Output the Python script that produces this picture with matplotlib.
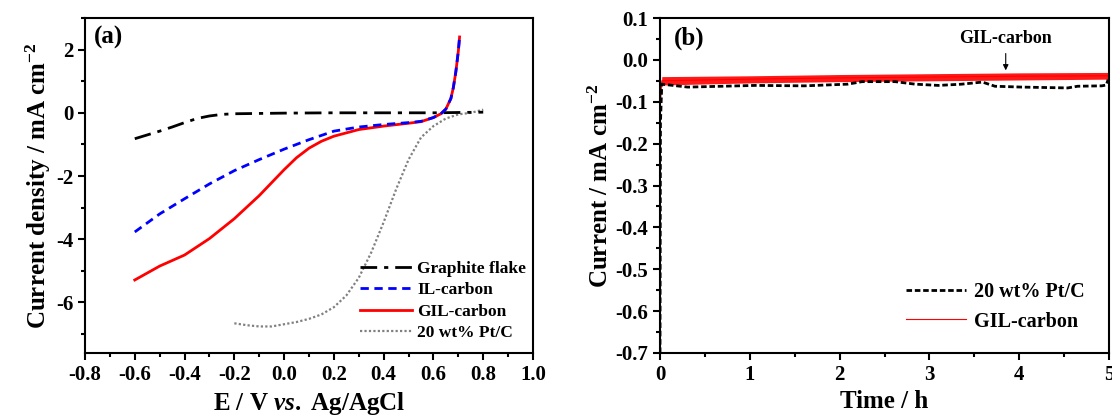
import matplotlib
matplotlib.use("Agg")
import matplotlib.pyplot as plt
from matplotlib.ticker import MultipleLocator, FormatStrFormatter
from matplotlib.lines import Line2D

plt.rcParams['font.family'] = ['Liberation Serif', 'DejaVu Serif']
plt.rcParams['font.weight'] = 'bold'
plt.rcParams['axes.unicode_minus'] = False
plt.rcParams['mathtext.fontset'] = 'custom'
plt.rcParams['mathtext.rm'] = 'Liberation Serif:bold'
plt.rcParams['mathtext.bf'] = 'Liberation Serif:bold'
plt.rcParams['mathtext.it'] = 'Liberation Serif:bold:italic'

# ---------------- Panel (a) data: LSV curves ----------------
graphite_E = [-0.6, -0.55, -0.5, -0.45, -0.4, -0.35, -0.3, -0.25, -0.2, -0.1, 0.0, 0.2, 0.4, 0.6, 0.8]
graphite_j = [-0.82, -0.70, -0.58, -0.45, -0.31, -0.18, -0.10, -0.05, -0.03, -0.02, -0.01, 0.0, 0.0, 0.0, 0.02]

il_E = [-0.6, -0.5, -0.4, -0.3, -0.2, -0.1, 0.0, 0.1, 0.2, 0.3, 0.4, 0.5, 0.55, 0.6, 0.63, 0.65, 0.67, 0.68, 0.69, 0.70, 0.705]
il_j = [-3.77, -3.2, -2.72, -2.25, -1.83, -1.48, -1.15, -0.85, -0.58, -0.45, -0.37, -0.31, -0.27, -0.15, -0.03, 0.12, 0.45, 0.8, 1.3, 1.95, 2.4]

gil_E = [-0.6, -0.5, -0.4, -0.3, -0.2, -0.1, 0.0, 0.05, 0.1, 0.15, 0.2, 0.3, 0.4, 0.5, 0.55, 0.6, 0.63, 0.65, 0.67, 0.68, 0.69, 0.70, 0.705]
gil_j = [-5.29, -4.85, -4.5, -3.98, -3.35, -2.62, -1.8, -1.42, -1.12, -0.9, -0.74, -0.53, -0.42, -0.33, -0.28, -0.15, -0.03, 0.12, 0.45, 0.8, 1.3, 1.95, 2.4]

ptc_E = [-0.2, -0.15, -0.1, -0.05, 0.0, 0.05, 0.1, 0.15, 0.2, 0.25, 0.3, 0.35, 0.4, 0.45, 0.5, 0.55, 0.6, 0.65, 0.7, 0.75, 0.8]
ptc_j = [-6.66, -6.72, -6.76, -6.76, -6.69, -6.62, -6.52, -6.38, -6.15, -5.78, -5.22, -4.42, -3.46, -2.42, -1.48, -0.78, -0.42, -0.18, -0.05, 0.0, 0.1]

# ---------------- Panel (b) data: chronoamperometry ----------------
ptc_t = [0.0, 0.005, 0.02, 0.31, 1.06, 1.61, 2.09, 2.25, 2.62, 2.84, 3.10, 3.36, 3.59, 3.73, 4.03, 4.54, 4.65, 4.92, 4.97, 4.99]
ptc_i = [-0.7, -0.15, -0.058, -0.065, -0.061, -0.062, -0.058, -0.052, -0.052, -0.058, -0.061, -0.058, -0.053, -0.063, -0.065, -0.067, -0.063, -0.062, -0.060, -0.047]

gil_t = [0.0, 0.004, 0.02, 1.0, 2.0, 3.0, 4.0, 5.0]
gil_i = [-0.7, -0.1, -0.05, -0.046, -0.043, -0.041, -0.039, -0.038]
gil_low = [-0.7, -0.1, -0.060, -0.055, -0.052, -0.050, -0.048, -0.046]
gil_high = [-0.7, -0.1, -0.040, -0.038, -0.035, -0.033, -0.031, -0.030]

fig = plt.figure(figsize=(11.12, 4.16), dpi=100)
axa = fig.add_axes([85/1112, 63/416, 448/1112, 335/416])
axb = fig.add_axes([660/1112, 63/416, 449/1112, 335/416])

for ax in (axa, axb):
    for s in ax.spines.values():
        s.set_linewidth(1.5)
    ax.tick_params(which='both', direction='out', width=1.5, labelsize=15)
    ax.tick_params(which='major', length=5)
    ax.tick_params(which='minor', length=3)

# Panel (a)
axa.plot(graphite_E, graphite_j, color='black', lw=2, ls=(0, (6, 2.5, 1.5, 2.5)), label='Graphite flake', zorder=3)
axa.plot(il_E, il_j, color='blue', lw=2, ls=(0, (3, 2)), label='IL-carbon', zorder=4)
axa.plot(gil_E, gil_j, color='red', lw=2, ls='-', label='GIL-carbon', zorder=2)
axa.plot(ptc_E, ptc_j, color='gray', lw=1.6, ls=(0, (1, 1)), label='20 wt% Pt/C', zorder=1)
axa.set_xlim(-0.8, 1.0)
axa.set_ylim(-7.6, 3.0)
axa.xaxis.set_major_locator(MultipleLocator(0.2))
axa.xaxis.set_minor_locator(MultipleLocator(0.1))
axa.yaxis.set_major_locator(MultipleLocator(2))
axa.yaxis.set_minor_locator(MultipleLocator(1))
axa.xaxis.set_major_formatter(FormatStrFormatter('%.1f'))
axa.set_xlabel(r'E / V $\mathit{vs.}$ Ag/AgCl', fontsize=18, fontweight='bold', labelpad=4)
axa.set_ylabel(r'Current density / mA cm$^{-2}$', fontsize=18, fontweight='bold', labelpad=2)
axa.text(0.02, 0.975, '(a)', transform=axa.transAxes, fontsize=18, fontweight='bold', va='top', ha='left')
axa.legend(loc='lower right', frameon=False, handlelength=3.0, handletextpad=0.3,
           labelspacing=0.3, borderaxespad=0.0, bbox_to_anchor=(1.0, 0.015),
           prop={'weight': 'bold', 'size': 12.5})

# Panel (b)
axb.fill_between(gil_t, gil_low, gil_high, color='red', lw=0, alpha=0.9)
axb.plot(gil_t, gil_i, color='red', lw=0.8)
axb.plot(ptc_t, ptc_i, color='black', lw=2, ls=(0, (2, 1)))
axb.set_xlim(0, 5)
axb.set_ylim(-0.7, 0.1)
axb.xaxis.set_major_locator(MultipleLocator(1))
axb.xaxis.set_minor_locator(MultipleLocator(0.5))
axb.yaxis.set_major_locator(MultipleLocator(0.1))
axb.yaxis.set_minor_locator(MultipleLocator(0.05))
axb.yaxis.set_major_formatter(FormatStrFormatter('%.1f'))
axb.set_xlabel('Time / h', fontsize=18, fontweight='bold', labelpad=4)
axb.set_ylabel(r'Current / mA cm$^{-2}$', fontsize=18, fontweight='bold', labelpad=2)
axb.text(0.03, 0.975, '(b)', transform=axb.transAxes, fontsize=18, fontweight='bold', va='top', ha='left')
axb.annotate('GIL-carbon', xy=(3.85, -0.025), xytext=(3.85, 0.052), ha='center', va='center',
             fontsize=13, fontweight='bold',
             arrowprops=dict(arrowstyle='-|>', color='black', lw=0.8, mutation_scale=8, shrinkA=3, shrinkB=0))
handles = [Line2D([], [], color='black', lw=2, ls=(0, (2, 1))),
           Line2D([], [], color='red', lw=0.8)]
axb.legend(handles, ['20 wt% Pt/C', 'GIL-carbon'], loc='lower right', frameon=False,
           handlelength=3.0, handletextpad=0.4, labelspacing=0.45, borderaxespad=0.0,
           bbox_to_anchor=(0.965, 0.04), prop={'weight': 'bold', 'size': 14.5})

for ax in (axa, axb):
    for lab in ax.get_xticklabels() + ax.get_yticklabels():
        lab.set_fontweight('bold')

fig.savefig('out.png', dpi=100)
